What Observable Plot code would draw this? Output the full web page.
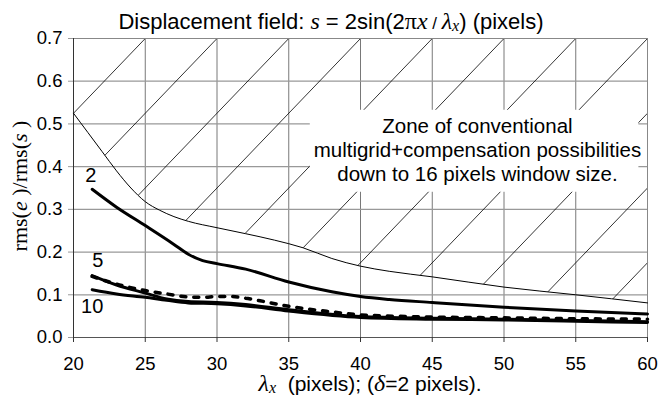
<!DOCTYPE html>
<html><head><meta charset="utf-8">
<script src="https://cdn.jsdelivr.net/npm/d3@7"></script>
<script src="https://cdn.jsdelivr.net/npm/@observablehq/plot@0.6"></script>
<style>
body{margin:0;background:#fff;}
#chart{width:658px;height:397px;}
</style></head><body><div id="chart"></div>
<script>
// ---- data ----
const xTicks = [20, 25, 30, 35, 40, 45, 50, 55, 60];
const yTicks = [0, 0.1, 0.2, 0.3, 0.4, 0.5, 0.6, 0.7];

// zone boundary (thin line)
const boundaryX = [20, 21, 22, 23, 24, 25, 26, 27, 28, 30, 32, 34, 36, 38, 40, 42, 45, 50, 55, 60];
const boundaryY = [0.525, 0.48, 0.435, 0.39, 0.35, 0.318, 0.298, 0.283, 0.272, 0.257, 0.243, 0.228, 0.21, 0.185, 0.167, 0.155, 0.142, 0.118, 0.100, 0.081];

// curve "2"
const c2X = [21.3, 23, 25, 27, 28, 29, 30, 32, 35, 38, 40, 42, 45, 50, 55, 60];
const c2Y = [0.347, 0.305, 0.262, 0.218, 0.195, 0.180, 0.173, 0.160, 0.130, 0.107, 0.096, 0.089, 0.082, 0.071, 0.062, 0.055];

// curve "5"
const c5X = [21.3, 23, 25, 26.5, 28, 30, 32, 35, 40, 45, 50, 55, 60];
const c5Y = [0.145, 0.123, 0.104, 0.090, 0.084, 0.082, 0.077, 0.065, 0.049, 0.045, 0.043, 0.040, 0.037];

// curve "10"
const c10X = [21.3, 23, 25, 26.5, 28, 30, 32, 35, 40, 45, 50, 55, 60];
const c10Y = [0.112, 0.102, 0.094, 0.087, 0.081, 0.079, 0.074, 0.062, 0.047, 0.043, 0.041, 0.038, 0.035];

// dotted curve
const dotX = [21.3, 23, 25, 26.5, 28, 29, 30, 31, 32, 33, 35, 38, 40, 45, 50, 55, 60];
const dotY = [0.143, 0.125, 0.110, 0.102, 0.095, 0.094, 0.096, 0.096, 0.092, 0.086, 0.073, 0.060, 0.053, 0.048, 0.046, 0.044, 0.043];

// curve labels
const labelText = ["2", "5", "10"];
const labelX = [21.2, 21.7, 21.3];
const labelY = [0.379, 0.18, 0.073];

// hatch lines: cross the top of the frame at these x, slope in data units
const hatchTops = [25, 30, 35, 40, 45, 50, 55, 60, 65, 70, 75];
const hatchSlope = 0.035;

// annotation
const zoneText = "Zone of conventional\nmultigrid+compensation possibilities\ndown to 16 pixels window size.";
const zoneBox = {x1: 36.5, x2: 59.4, y1: 0.34, y2: 0.532};
const zoneTextPos = {x: 48.15, y: 0.44};

// ---- build ----
const sans = "'Liberation Sans', Arial, Helvetica, sans-serif";
const serif = "'Liberation Serif', 'Times New Roman', serif";
const toRows = (xs, ys) => xs.map((x, i) => ({x, y: ys[i]}));
const boundary = toRows(boundaryX, boundaryY);

function bAt(x) {
  const i = Math.max(1, Math.min(boundaryX.length - 1, d3.bisectRight(boundaryX, x)));
  const x0 = boundaryX[i - 1], x1 = boundaryX[i];
  const t = (x - x0) / (x1 - x0);
  return boundaryY[i - 1] + t * (boundaryY[i] - boundaryY[i - 1]);
}
const yMax = 0.7, xMin = 20, xMax = 60;
const hatch = [];
for (const xt of hatchTops) {
  const line = x => yMax - hatchSlope * (xt - x);
  let xe = Math.min(xt, xMax);
  if (line(xe) <= bAt(xe)) continue;
  let xs = xe;
  while (xs > xMin && line(xs - 0.005) > bAt(xs - 0.005)) xs -= 0.005;
  hatch.push({x1: xs, y1: line(xs), x2: xe, y2: line(xe)});
}

const chart = Plot.plot({
  width: 658, height: 397,
  marginTop: 38, marginBottom: 60, marginLeft: 73, marginRight: 11,
  style: {fontFamily: sans, background: "#fff", color: "#000"},
  x: {domain: [20, 60]},
  y: {domain: [0, 0.7]},
  marks: [
    Plot.gridX(xTicks, {stroke: "#555", strokeOpacity: 1, strokeWidth: 0.8}),
    Plot.gridY(yTicks, {stroke: "#999", strokeOpacity: 1, strokeWidth: 1.2}),
    Plot.link(hatch, {x1: "x1", y1: "y1", x2: "x2", y2: "y2", stroke: "#000", strokeWidth: 0.8}),
    Plot.rect([zoneBox], {x1: "x1", x2: "x2", y1: "y1", y2: "y2", fill: "#fff"}),
    Plot.frame({stroke: "#888"}),
    Plot.ruleX([20], {stroke: "#333"}),
    Plot.ruleY([0], {stroke: "#555"}),
    Plot.line(boundary, {x: "x", y: "y", stroke: "#000", strokeWidth: 1, curve: "monotone-x"}),
    Plot.line(toRows(c2X, c2Y), {x: "x", y: "y", stroke: "#000", strokeWidth: 3, curve: "monotone-x"}),
    Plot.line(toRows(c10X, c10Y), {x: "x", y: "y", stroke: "#000", strokeWidth: 3, curve: "monotone-x"}),
    Plot.line(toRows(c5X, c5Y), {x: "x", y: "y", stroke: "#000", strokeWidth: 3, curve: "monotone-x"}),
    Plot.line(toRows(dotX, dotY), {x: "x", y: "y", stroke: "#000", strokeWidth: 3.5, strokeDasharray: "5,8", curve: "monotone-x"}),
    Plot.text(labelText, {x: (d, i) => labelX[i], y: (d, i) => labelY[i], text: d => d, fontSize: 20, fontFamily: sans, fill: "#000"}),
    Plot.text([zoneText], {x: () => zoneTextPos.x, y: () => zoneTextPos.y, text: d => d, fontSize: 20.5, lineHeight: 1.16, fontFamily: sans, fill: "#000"}),
    Plot.axisX(xTicks, {tickSize: 5, tickPadding: 14, fontSize: 18.5, fontFamily: sans, label: null, stroke: "#333", fill: "#000"}),
    Plot.axisY(yTicks, {tickSize: 5, tickPadding: 6, fontSize: 18.5, fontFamily: sans, label: null, stroke: "#999", fill: "#000"})
  ]
});
document.getElementById("chart").appendChild(chart);

// ---- title and axis labels with mixed fonts ----
const svg = d3.select(chart);
function addText(parts, attrs) {
  const t = svg.append("text").attr("fill", "#000");
  for (const [k, v] of Object.entries(attrs)) t.attr(k, v);
  for (const p of parts) {
    const s = t.append("tspan").text(p.t).attr("font-family", p.f || sans).attr("font-size", p.s || attrs["font-size"]);
    if (p.i) s.attr("font-style", "italic");
    if (p.dy) s.attr("dy", p.dy);
  }
  return t;
}
addText([
  {t: "Displacement field: "},
  {t: "s", f: serif, i: 1, s: 24},
  {t: " = 2sin(2"},
  {t: "π", f: serif, s: 24},
  {t: "x", f: serif, i: 1, s: 24},
  {t: " / ", s: 17},
  {t: "λ", f: serif, i: 1, s: 24},
  {t: "x", f: serif, i: 1, s: 16, dy: 2},
  {t: ") (pixels)", dy: -2}
], {x: 331, y: 29, "text-anchor": "middle", "font-size": 22});

addText([
  {t: "λ", f: serif, i: 1, s: 24},
  {t: "x", f: serif, i: 1, s: 16, dy: 2},
  {t: "  (pixels); (", dy: -2},
  {t: "δ", f: serif, i: 1, s: 24},
  {t: "=2 pixels)."}
], {x: 370, y: 391, "text-anchor": "middle", "font-size": 21});

addText([
  {t: "rms("},
  {t: "e", i: 1},
  {t: " )/rms("},
  {t: "s", i: 1},
  {t: " )"}
], {transform: "translate(27,186) rotate(-90)", "text-anchor": "middle", "font-size": 22, "font-family": serif}).selectAll("tspan").attr("font-family", serif);
</script></body></html>
